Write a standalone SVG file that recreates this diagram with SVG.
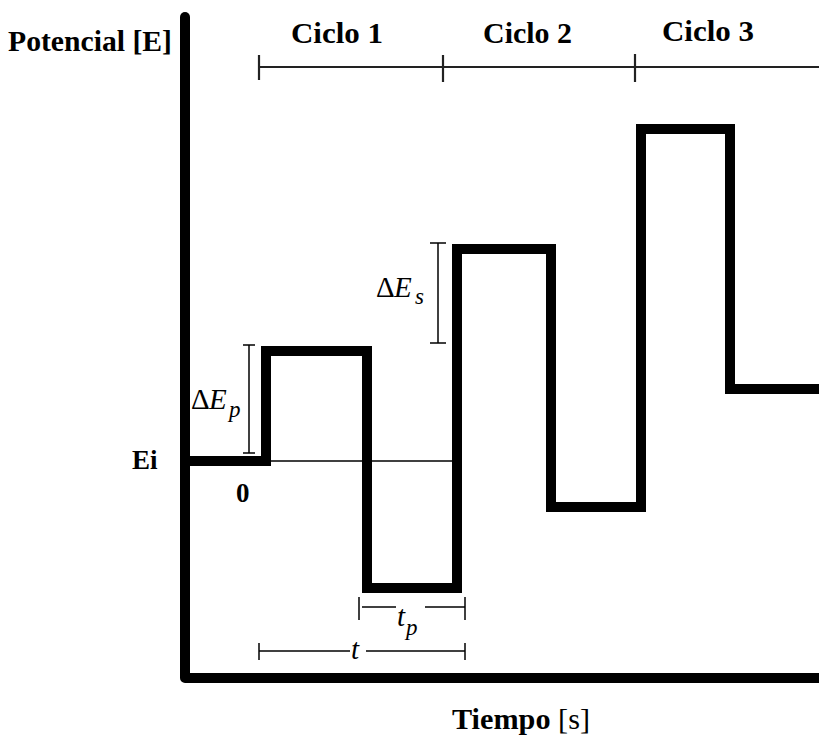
<svg xmlns="http://www.w3.org/2000/svg" width="819" height="742" viewBox="0 0 819 742">
<style>
.lbl{font-family:"Liberation Serif","Times New Roman",serif;font-weight:bold;fill:#000}
.math{font-family:"Liberation Serif","DejaVu Serif",serif;font-style:italic;fill:#000;font-size:29px}
.up{font-style:normal}
.sub{font-size:23px}
.thin{stroke:#000;stroke-width:1.5;fill:none}
.cyc{stroke:#222;stroke-width:2.2;fill:none}
</style>
<rect width="819" height="742" fill="#fff"/>
<g id="axes" stroke="#000" stroke-width="10" fill="none">
<path d="M185,17 V678 H819" stroke-linejoin="round"/>
<line x1="185" y1="17" x2="185" y2="18" stroke-linecap="round"/>
</g>
<g id="cycles">
<line class="cyc" x1="259" y1="67" x2="819" y2="67"/>
<line class="cyc" x1="259" y1="55" x2="259" y2="80"/>
<line class="cyc" x1="443" y1="55" x2="443" y2="82"/>
<line class="cyc" x1="635" y1="54" x2="635" y2="82"/>
<text class="lbl" x="291" y="43" font-size="30" textLength="92" lengthAdjust="spacingAndGlyphs">Ciclo 1</text>
<text class="lbl" x="483" y="43" font-size="30" textLength="89" lengthAdjust="spacingAndGlyphs">Ciclo 2</text>
<text class="lbl" x="662" y="41" font-size="30" textLength="92" lengthAdjust="spacingAndGlyphs">Ciclo 3</text>
</g>
<g id="ei-line">
<line class="thin" x1="268" y1="461" x2="457" y2="461"/>
</g>
<g id="waveform">
<path d="M185,461 H266 V351 H367 V588 H457 V249 H551 V507 H641 V129 H730 V389 H819" stroke="#000" stroke-width="10" fill="none" stroke-linejoin="miter"/>
</g>
<g id="dEp">
<line class="thin" x1="249" y1="345" x2="249" y2="453"/>
<line class="thin" x1="243" y1="345" x2="255" y2="345"/>
<line class="thin" x1="243" y1="453" x2="255" y2="453"/>
<text class="math" y="409"><tspan class="up" x="191">Δ</tspan><tspan x="209">E</tspan></text>
<text class="math sub" x="229" y="417">p</text>
</g>
<g id="dEs">
<line class="thin" x1="438" y1="243" x2="438" y2="343"/>
<line class="thin" x1="430" y1="243" x2="446" y2="243"/>
<line class="thin" x1="430" y1="343" x2="446" y2="343"/>
<text class="math" y="297"><tspan class="up" x="376">Δ</tspan><tspan x="394">E</tspan></text>
<text class="math sub" x="415" y="304">s</text>
</g>
<g id="tp">
<line class="thin" x1="359" y1="597" x2="359" y2="620"/>
<line class="thin" x1="465" y1="597" x2="465" y2="620"/>
<line class="thin" x1="362" y1="607" x2="396" y2="607"/>
<line class="thin" x1="425" y1="607" x2="465" y2="607"/>
<text class="math" x="397" y="626">t</text>
<text class="math sub" x="406" y="635">p</text>
</g>
<g id="t">
<line class="thin" x1="259" y1="643" x2="259" y2="660"/>
<line class="thin" x1="465" y1="643" x2="465" y2="660"/>
<line class="thin" x1="259" y1="651" x2="350" y2="651"/>
<line class="thin" x1="366" y1="651" x2="465" y2="651"/>
<text class="math" x="351" y="659">t</text>
</g>
<g id="labels">
<text class="lbl" x="8" y="51" font-size="29" textLength="164" lengthAdjust="spacingAndGlyphs">Potencial [E]</text>
<text class="lbl" x="132" y="469" font-size="27">Ei</text>
<text class="lbl" x="236" y="502" font-size="27">0</text>
<text class="lbl" x="452" y="729" font-size="29" textLength="138" lengthAdjust="spacingAndGlyphs">Tiempo <tspan font-weight="normal">[s]</tspan></text>
</g>
</svg>
